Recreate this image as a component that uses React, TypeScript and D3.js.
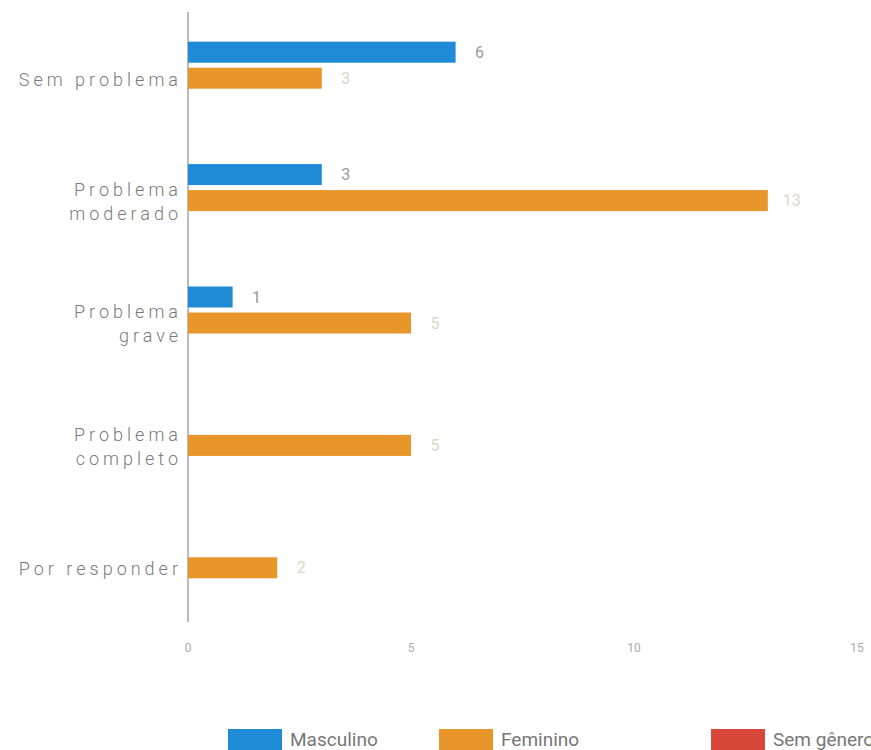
import { useMemo } from "react";
import * as d3 from "d3";

const categories = [
  ["Sem problema"],
  ["Problema", "moderado"],
  ["Problema", "grave"],
  ["Problema", "completo"],
  ["Por responder"],
];
const seriesNames = ["Masculino", "Feminino", "Sem gênero"];
const masculino = [6, 3, 1, 0, 0];
const feminino = [3, 13, 5, 5, 2];
const semGenero = [0, 0, 0, 0, 0];
const xTicks = [0, 5, 10, 15];

const colors = ["#1f8bd6", "#e8952a", "#d9463a"];
const labelColors = ["#9a9a9a", "#ddd6c4", "#ccc"];

const W = 871;
const H = 750;
const font = "Roboto, 'Noto Sans', sans-serif";

export default function App() {
  const x = useMemo(() => d3.scaleLinear().domain([0, 15]).range([188, 857]), []);
  const y = useMemo(
    () =>
      d3
        .scaleBand<number>()
        .domain(d3.range(categories.length))
        .range([5, 617]),
    []
  );
  const series = [masculino, feminino, semGenero];
  const barH = 21;
  const gap = 5;

  return (
    <svg
      width={W}
      height={H}
      style={{ position: "absolute", left: 0, top: 0, background: "#fff" }}
      fontFamily={font}
    >
      {/* axis line */}
      <line x1={x(0)} x2={x(0)} y1={12} y2={622} stroke="#777" strokeWidth={1} />

      {categories.map((lines, i) => {
        const c = (y(i) ?? 0) + y.bandwidth() / 2;
        return (
          <g key={i}>
            {series.slice(0, 2).map((s, k) => {
              const v = s[i];
              if (!v) return null;
              const top = c - barH - gap / 2 + k * (barH + gap) - 1;
              return (
                <g key={k}>
                  <rect x={x(0)} y={top} width={x(v) - x(0)} height={barH} fill={colors[k]} />
                  <text
                    x={x(v) + 24}
                    y={top + barH / 2}
                    dy="0.35em"
                    fontSize={16}
                    fill={labelColors[k]}
                    textAnchor="middle"
                  >
                    {v}
                  </text>
                </g>
              );
            })}
            <text
              x={182}
              y={c + 13 - (lines.length - 1) * 12}
              dy="0.35em"
              textAnchor="end"
              fontSize={18}
              fontWeight={300}
              letterSpacing={4}
              fill="#7a7a7a"
            >
              {lines.map((l, j) => (
                <tspan key={j} x={182} dy={j === 0 ? "0.35em" : 24}>
                  {l}
                </tspan>
              ))}
            </text>
          </g>
        );
      })}

      {xTicks.map((t) => (
        <text key={t} x={x(t)} y={648} dy="0.35em" textAnchor="middle" fontSize={12} fill="#aaa">
          {t}
        </text>
      ))}

      {seriesNames.map((n, k) => {
        const lx = [228, 439, 711][k];
        return (
          <g key={n}>
            <rect x={lx} y={729} width={54} height={22} fill={colors[k]} />
            <text x={lx + 62} y={739} dy="0.35em" fontSize={19} fill="#777">
              {n}
            </text>
          </g>
        );
      })}
    </svg>
  );
}
